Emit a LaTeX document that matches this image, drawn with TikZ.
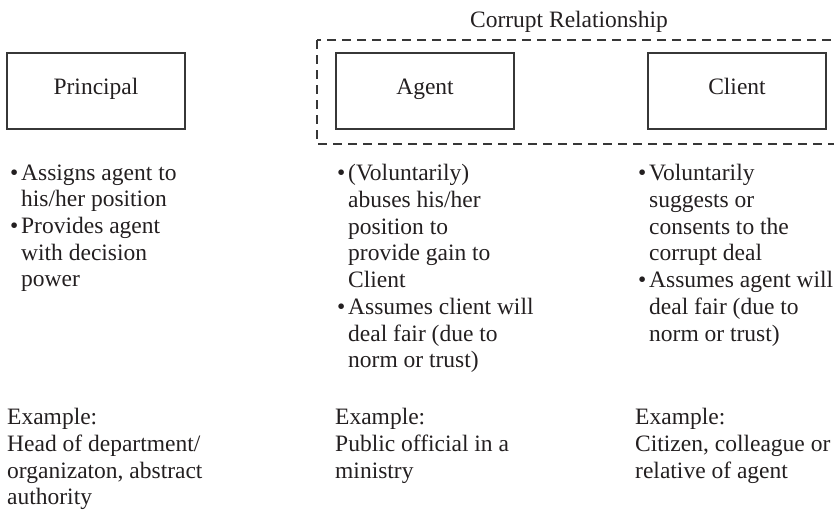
\documentclass[tikz,border=0pt]{standalone}
\usepackage{fontspec}
\setmainfont{Liberation Serif}
\usetikzlibrary{positioning}

\definecolor{inkgray}{RGB}{35,31,32}
\definecolor{linegray}{RGB}{55,55,55}

\tikzstyle{actor}=[rectangle,draw=linegray,line width=1.5pt,minimum width=178pt,minimum height=76pt,inner sep=0pt,text=inkgray,text height=1.6ex,text depth=.2ex]
\tikzstyle{notes}=[anchor=north west,align=left,inner sep=0pt,text=inkgray,execute at begin node=\strut]
\tikzstyle{dash box}=[draw=linegray,line width=1.3pt,dash pattern=on 9pt off 6pt]

\newcommand{\itm}{\makebox[11pt][l]{\textbullet}}
\newcommand{\ind}{\hspace*{11pt}}

\begin{document}
\begin{tikzpicture}[x=1pt,y=-1pt,font=\fontsize{23.5}{26.7}\selectfont]
	\useasboundingbox (0,0) rectangle (834,512);
	% the three actors
	\foreach \name/\x/\label in {principal/96/Principal, agent/425/Agent, client/737/Client}
		\node[actor] (\name) at (\x,91) {\label};
	% dashed frame round agent and client
	\draw[dash box] (317,40) rectangle (860,144);
	\node[anchor=base,inner sep=0pt,text=inkgray] (relation) at (569,27) {Corrupt Relationship};
	% bullet lists
	\node[notes] (principal roles) at (10,164.3)
		{\itm Assigns agent to\\ \ind his/her position\\ \itm Provides agent\\ \ind with decision\\ \ind power};
	\node[notes] (agent roles) at (337,164.3)
		{\itm (Voluntarily)\\ \ind abuses his/her\\ \ind position to\\ \ind provide gain to\\ \ind Client\\
		 \itm Assumes client will\\ \ind deal fair (due to\\ \ind norm or trust)};
	\node[notes] (client roles) at (638,164.3)
		{\itm Voluntarily\\ \ind suggests or\\ \ind consents to the\\ \ind corrupt deal\\
		 \itm Assumes agent will\\ \ind deal fair (due to\\ \ind norm or trust)};
	% examples
	\node[notes] (principal example) at (7,408.3)
		{Example:\\ Head of department/\\ organizaton, abstract\\ authority};
	\node[notes] (agent example) at (335,408.3)
		{Example:\\ Public official in a\\ ministry};
	\node[notes] (client example) at (635,408.3)
		{Example:\\ Citizen, colleague or\\ relative of agent};
\end{tikzpicture}
\end{document}
